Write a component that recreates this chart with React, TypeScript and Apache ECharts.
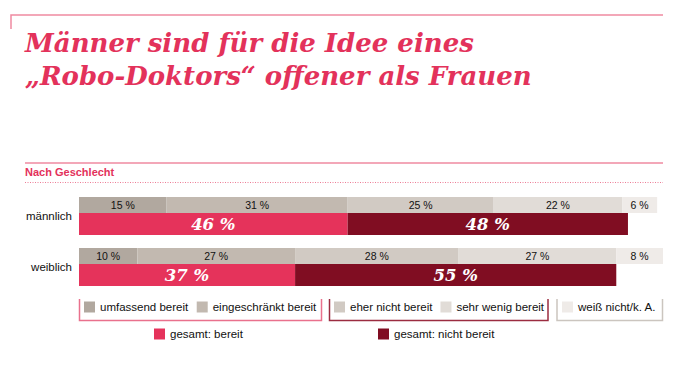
import React, { useEffect, useRef } from "react";
import * as echarts from "echarts";

const titleLines = ["Männer sind für die Idee eines", "„Robo-Doktors“ offener als Frauen"];
const sectionTitle = "Nach Geschlecht";
const categories = ["männlich", "weiblich"];
const segmentNames = ["umfassend bereit", "eingeschränkt bereit", "eher nicht bereit", "sehr wenig bereit", "weiß nicht/k. A."];
const umfassend = [15, 10];
const eingeschraenkt = [31, 27];
const eherNicht = [25, 28];
const sehrWenig = [22, 27];
const weissNicht = [6, 8];
const totalNames = ["gesamt: bereit", "gesamt: nicht bereit"];
const gesamtBereit = [46, 37];
const gesamtNicht = [48, 55];

const segmentColors = ["#b1a89f", "#c2b9b0", "#d1cac3", "#e1dcd7", "#efebe8"];
const totalColors = ["#e5335b", "#800d22"];
const PINK = "#e3325b";
const SANS = "'Liberation Sans', Arial, sans-serif";
const SERIF = "'DejaVu Serif', serif";

export default function App() {
  const ref = useRef<HTMLDivElement>(null);
  useEffect(() => {
    if (!ref.current) return;
    const chart = echarts.init(ref.current, null, { renderer: "svg" });
    const segValues = [umfassend, eingeschraenkt, eherNicht, sehrWenig, weissNicht];
    const totValues = [gesamtBereit, gesamtNicht];
    const segSeries = segmentNames.map((name, i) => ({
      name,
      type: "bar",
      stack: "detail",
      barWidth: 16,
      barGap: "0%",
      data: segValues[i],
      itemStyle: { color: segmentColors[i] },
      label: {
        show: true,
        position: "inside",
        formatter: "{c} %",
        color: "#111111",
        fontSize: 10.5,
        fontFamily: SANS,
      },
      emphasis: { disabled: true },
    }));
    const totSeries = totalNames.map((name, i) => ({
      name,
      type: "bar",
      stack: "total",
      barWidth: 22,
      barGap: "0%",
      data: totValues[i],
      itemStyle: { color: totalColors[i] },
      label: {
        show: true,
        position: "inside",
        formatter: "{c} %",
        color: "#ffffff",
        fontSize: 16.5,
        fontWeight: "bold",
        fontStyle: "italic",
        fontFamily: SERIF,
      },
      emphasis: { disabled: true },
    }));
    const legendText = { fontSize: 11.5, fontFamily: SANS, color: "#111111" };
    const legendBase = {
      orient: "horizontal",
      icon: "rect",
      itemWidth: 11,
      itemHeight: 11,
      padding: 0,
      selectedMode: false,
      textStyle: legendText,
    };
    const option = {
      animation: false,
      grid: { left: 79, top: 190.5, width: 584, height: 102, containLabel: false },
      xAxis: { type: "value", min: 0, max: 100, show: false },
      yAxis: {
        type: "category",
        data: categories,
        inverse: true,
        axisLine: { show: false },
        axisTick: { show: false },
        splitLine: { show: false },
        axisLabel: { margin: 7, fontSize: 11.5, fontFamily: SANS, color: "#111111" },
      },
      legend: [
        { ...legendBase, data: segmentNames.slice(0, 2), left: 84, top: 301, itemGap: 8.5 },
        { ...legendBase, data: segmentNames.slice(2, 4), left: 334, top: 301, itemGap: 8 },
        { ...legendBase, data: segmentNames.slice(4), left: 562, top: 301 },
        { ...legendBase, data: [totalNames[0]], left: 154, top: 328 },
        { ...legendBase, data: [totalNames[1]], left: 378, top: 328 },
      ],
      graphic: [
        { type: "polyline", shape: { points: [[11, 29], [11, 15], [663, 15]] }, style: { stroke: "#ef8aa1", lineWidth: 1.5, fill: null } },
        { type: "text", x: 25, y: 42.5, style: { text: titleLines[0], font: `italic bold 26px ${SERIF}`, fill: PINK, verticalAlign: "middle" } },
        { type: "text", x: 25, y: 75.5, style: { text: titleLines[1], font: `italic bold 26px ${SERIF}`, fill: PINK, verticalAlign: "middle" } },
        { type: "line", shape: { x1: 25, y1: 163, x2: 663, y2: 163 }, style: { stroke: "#ef8aa1", lineWidth: 1.5 } },
        { type: "text", x: 25, y: 172, style: { text: sectionTitle, font: `bold 11px ${SANS}`, fill: PINK, verticalAlign: "middle" } },
        { type: "line", shape: { x1: 25, y1: 182.5, x2: 663, y2: 182.5 }, style: { stroke: "#ec7d96", lineWidth: 1, lineDash: [1, 1.5] } },
        { type: "polyline", shape: { points: [[79.5, 299], [79.5, 320.5], [321.5, 320.5], [321.5, 299]] }, style: { stroke: "#e9718d", lineWidth: 1.5, fill: null } },
        { type: "polyline", shape: { points: [[329.5, 299], [329.5, 320.5], [548, 320.5], [548, 299]] }, style: { stroke: "#9b2c40", lineWidth: 1.5, fill: null } },
        { type: "polyline", shape: { points: [[557, 299], [557, 320.5], [662.5, 320.5], [662.5, 299]] }, style: { stroke: "#cbc5bf", lineWidth: 1.5, fill: null } },
      ],
      series: [...segSeries, ...totSeries],
    };
    chart.setOption(option as any);
    return () => chart.dispose();
  }, []);
  return <div ref={ref} style={{ position: "fixed", left: 0, top: 0, width: 683, height: 383, background: "#fff" }} />;
}
